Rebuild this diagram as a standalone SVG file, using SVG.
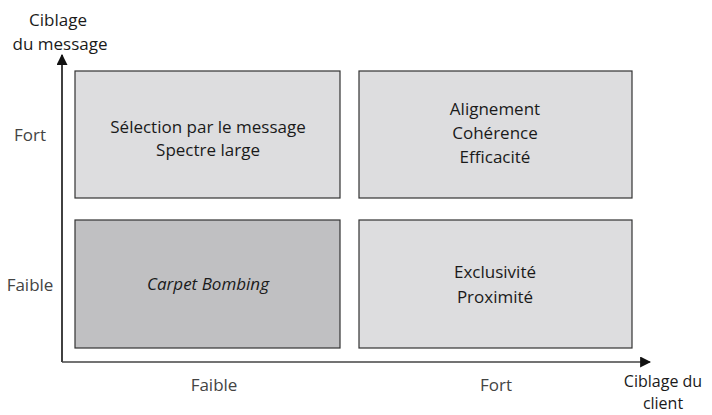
<svg xmlns="http://www.w3.org/2000/svg" width="712" height="415" viewBox="0 0 712 415">
<style>
text{font-family:"Open Sans","Liberation Sans",sans-serif;font-size:17px;fill:#1a1a1a;text-anchor:middle}
.lbl{fill:#444}
.sm{font-size:16px}
.box{stroke:#333;stroke-width:1.2}
.light{fill:#dddddf}
.dark{fill:#c0c0c2}
.ax{stroke:#111;stroke-width:1.6;fill:none}
</style>
<defs>
<marker id="ah" viewBox="0 0 10 10" refX="9" refY="5" markerWidth="11" markerHeight="11" markerUnits="userSpaceOnUse" orient="auto">
<path d="M0,0 L10,5 L0,10 Z" fill="#111"/>
</marker>
</defs>
<g id="connectors">
<path class="ax" d="M62,362 V55" marker-end="url(#ah)"/>
<path class="ax" d="M62,362 H650" marker-end="url(#ah)" style="stroke:#444"/>
</g>
<g id="q-tl"><rect class="box light" x="75" y="71" width="265" height="127"/>
<text x="208" y="133">Sélection par le message</text><text x="208" y="156">Spectre large</text></g>
<g id="q-tr"><rect class="box light" x="359" y="71" width="273" height="127"/>
<text x="495" y="115">Alignement</text><text x="495" y="139">Cohérence</text><text x="495" y="163">Efficacité</text></g>
<g id="q-bl"><rect class="box dark" x="75" y="220" width="265" height="128"/>
<text x="208" y="290" font-style="italic">Carpet Bombing</text></g>
<g id="q-br"><rect class="box light" x="359" y="220" width="273" height="128"/>
<text x="495" y="278">Exclusivité</text><text x="495" y="303">Proximité</text></g>
<g id="labels">
<text class="lbl" x="30" y="141">Fort</text>
<text class="lbl" x="30" y="291">Faible</text>
<text class="lbl" x="214" y="391">Faible</text>
<text class="lbl" x="496" y="391">Fort</text>
<text x="58" y="26">Ciblage</text>
<text x="60" y="50">du message</text>
<text class="sm" x="663" y="387">Ciblage du</text>
<text class="sm" x="663" y="409">client</text>
</g>
</svg>
